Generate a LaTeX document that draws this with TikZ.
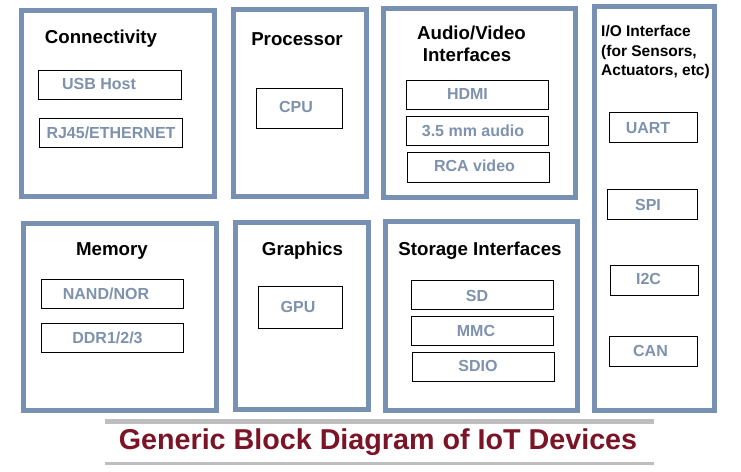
\documentclass[tikz,border=0pt]{standalone}
\usepackage{fontspec}
\setmainfont{Liberation Sans}
\definecolor{frame}{RGB}{120,145,178}
\definecolor{inner}{RGB}{126,146,174}
\definecolor{ttl}{RGB}{122,20,38}
\definecolor{rule}{RGB}{190,190,190}
\begin{document}
\begin{tikzpicture}[x=1pt,y=-1pt,
  outerbox/.style={draw=frame,line width=5pt,inner sep=0pt,fill=white},
  innerbox/.style={draw=black,line width=0.9pt,inner sep=0pt},
  head/.style={anchor=base,inner sep=0pt,font=\fontsize{18.7}{22}\selectfont\bfseries},
  iohead/.style={anchor=base west,inner sep=0pt,font=\fontsize{15.5}{19}\selectfont\bfseries},
  lbl/.style={anchor=base,inner sep=0pt,text=inner,font=\fontsize{16}{19}\selectfont\bfseries},
  rulebar/.style={draw=rule,line width=4.5pt}]
\useasboundingbox[fill=white] (0,0) rectangle (741,471);
% outer blocks
\node[outerbox,minimum width=193pt,minimum height=186pt] (conn) at (118,103.5) {};
\node[outerbox,minimum width=133pt,minimum height=187pt] (proc) at (300,103) {};
\node[outerbox,minimum width=192pt,minimum height=189pt] (av) at (479.5,103) {};
\node[outerbox,minimum width=120pt,minimum height=404pt] (io) at (654.5,208.5) {};
\node[outerbox,minimum width=193pt,minimum height=187pt] (mem) at (120,317) {};
\node[outerbox,minimum width=133pt,minimum height=187pt] (gfx) at (302,316) {};
\node[outerbox,minimum width=192pt,minimum height=189pt] (stor) at (481.5,316) {};
% headings
\node[head] (hconn) at (101,43.5) {Connectivity};
\node[head] (hproc) at (297,45.5) {Processor};
\node[head] (hav1) at (471.5,39.5) {Audio/Video};
\node[head] (hav2) at (467,61.5) {Interfaces};
\node[iohead] (hio1) at (601,36.5) {I/O Interface};
\node[iohead] (hio2) at (601,56.5) {(for Sensors,};
\node[iohead] (hio3) at (601,75.5) {Actuators, etc)};
\node[head] (hmem) at (112,255.5) {Memory};
\node[head] (hgfx) at (302.5,255.5) {Graphics};
\node[head] (hstor) at (480,255.5) {Storage Interfaces};
% inner boxes
\node[innerbox,minimum width=143pt,minimum height=29pt] (usb) at (109.5,84.5) {};
\node[innerbox,minimum width=143pt,minimum height=29pt] (rj) at (110.5,132.5) {};
\node[innerbox,minimum width=86pt,minimum height=40pt] (cpu) at (299,108) {};
\node[innerbox,minimum width=142pt,minimum height=29pt] (hdmi) at (477,94.5) {};
\node[innerbox,minimum width=142pt,minimum height=29pt] (aud) at (477,130.5) {};
\node[innerbox,minimum width=142pt,minimum height=30pt] (rca) at (478,167) {};
\node[innerbox,minimum width=88pt,minimum height=30pt] (uart) at (653,127) {};
\node[innerbox,minimum width=90pt,minimum height=30pt] (spi) at (652,204) {};
\node[innerbox,minimum width=88pt,minimum height=30pt] (itc) at (654,280) {};
\node[innerbox,minimum width=88pt,minimum height=30pt] (can) at (653,351) {};
\node[innerbox,minimum width=142pt,minimum height=29pt] (nand) at (112,293.5) {};
\node[innerbox,minimum width=142pt,minimum height=29pt] (ddr) at (112,337.5) {};
\node[innerbox,minimum width=84pt,minimum height=42pt] (gpu) at (300,307) {};
\node[innerbox,minimum width=142pt,minimum height=29pt] (sd) at (482,294.5) {};
\node[innerbox,minimum width=142pt,minimum height=29pt] (mmc) at (482,330.5) {};
\node[innerbox,minimum width=142pt,minimum height=29pt] (sdio) at (483,366.5) {};
% inner labels
\node[lbl] (lusb) at (99,89.7) {USB Host};
\node[lbl] (lrj) at (111,138.2) {RJ45/ETHERNET};
\node[lbl] (lcpu) at (296,112.7) {CPU};
\node[lbl] (lhdmi) at (467.5,99.7) {HDMI};
\node[lbl] (laud) at (473,136.7) {3.5 mm audio};
\node[lbl] (lrca) at (474.5,171.7) {RCA video};
\node[lbl] (luart) at (648,133.7) {UART};
\node[lbl] (lspi) at (648,210.2) {SPI};
\node[lbl] (litc) at (648.5,284.7) {I2C};
\node[lbl] (lcan) at (650.5,356.7) {CAN};
\node[lbl] (lnand) at (106,299.7) {NAND/NOR};
\node[lbl] (lddr) at (107.5,343.7) {DDR1/2/3};
\node[lbl] (lgpu) at (298,312.7) {GPU};
\node[lbl] (lsd) at (477,301.7) {SD};
\node[lbl] (lmmc) at (476,336.7) {MMC};
\node[lbl] (lsdio) at (478,371.7) {SDIO};
% title and rules
\coordinate (r1a) at (105,421.7);
\coordinate (r1b) at (654,421.7);
\coordinate (r2a) at (105,463.5);
\coordinate (r2b) at (654,463.5);
\draw[rulebar] (r1a) -- (r1b);
\draw[rulebar,line width=3.5pt] (r2a) -- (r2b);
\node[anchor=base,inner sep=0pt,text=ttl,font=\fontsize{28.7}{32}\selectfont\bfseries] (title) at (378,449.3) {Generic Block Diagram of IoT Devices};
\end{tikzpicture}
\end{document}
